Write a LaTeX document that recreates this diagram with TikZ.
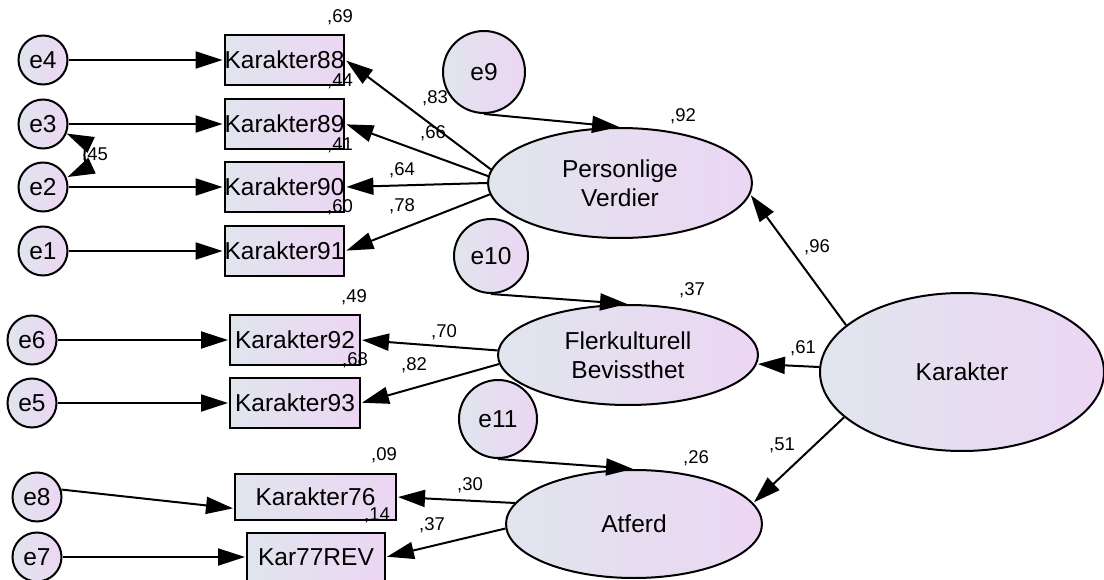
\documentclass[tikz,border=0pt]{standalone}
\usepackage{fontspec}
\setmainfont{Liberation Sans}
\usetikzlibrary{arrows.meta,shapes.geometric}
\definecolor{amosL}{RGB}{224,229,238}
\definecolor{amosR}{RGB}{236,214,243}

\begin{document}
\begin{tikzpicture}[x=1pt,y=-1pt,>={Triangle[length=27pt,width=17pt]},shorten >=1pt,line width=2pt,align=center,
		err/.style={circle,draw,left color=amosL,right color=amosR,inner sep=0pt,minimum size=49pt,font=\fontsize{24.5}{29}\selectfont},
		obs/.style={rectangle,draw,left color=amosL,right color=amosR,inner sep=0pt,minimum height=50pt,font=\fontsize{24.5}{29}\selectfont},
		lat/.style={ellipse,draw,left color=amosL,right color=amosR,inner sep=0pt,font=\fontsize{24.5}{29}\selectfont},
		coef/.style={inner sep=0pt,font=\fontsize{18.5}{20}\selectfont}]
		\useasboundingbox (0,0) rectangle (1104,580);
		% residuals
		\node[err] (e_4) at (43,60) {e4};
		\node[err] (e_3) at (43,124) {e3};
		\node[err] (e_2) at (43,187) {e2};
		\node[err] (e_1) at (43,251) {e1};
		\node[err] (e_6) at (32,340) {e6};
		\node[err] (e_5) at (32,403) {e5};
		\node[err] (e_8) at (37,497) {e8};
		\node[err] (e_7) at (37,557) {e7};
		\node[err,minimum size=82pt] (e_9) at (484,72) {e9};
		\node[err,minimum size=74pt] (e_10) at (491,256) {e10};
		\node[err,minimum size=78pt] (e_11) at (498,419) {e11};
		% items
		\node[obs,minimum width=119pt] (k_88) at (284.5,60) {Karakter88};
		\node[obs,minimum width=119pt] (k_89) at (284.5,124) {Karakter89};
		\node[obs,minimum width=119pt] (k_90) at (284.5,187) {Karakter90};
		\node[obs,minimum width=119pt] (k_91) at (284.5,251) {Karakter91};
		\node[obs,minimum width=130pt] (k_92) at (295,340) {Karakter92};
		\node[obs,minimum width=130pt] (k_93) at (295,403) {Karakter93};
		\node[obs,minimum width=161pt,minimum height=46pt] (k_76) at (315.5,497) {Karakter76};
		\node[obs,minimum width=138pt,minimum height=48pt] (k_77) at (316,557) {Kar77REV};
		% factors
		\node[lat,minimum width=264pt,minimum height=110pt] (pv) at (620,183) {Personlige\\Verdier};
		\node[lat,minimum width=260pt,minimum height=100pt] (fb) at (628,355) {Flerkulturell\\Bevissthet};
		\node[lat,minimum width=256pt,minimum height=108pt] (af) at (634,524) {Atferd};
		\node[lat,minimum width=284pt,minimum height=158pt] (kar) at (962,372) {Karakter};
		\node[coef] (r_45) at (95,155) {,45};
		\path[->]
			(e_4) edge (k_88)
			(e_3) edge (k_89)
			(e_2) edge (k_90)
			(e_1) edge (k_91)
			(e_6) edge (k_92)
			(e_5) edge (k_93)
			(e_8.17) edge (k_76.188)
			(e_7) edge (k_77)
			(e_9.south) edge (pv.north)
			(e_10.south) edge (fb.north)
			(e_11.south) edge (af.north)
			(pv.174) edge (k_88.east)
			(pv.177) edge (k_89.east)
			(pv.180) edge (k_90.east)
			(pv.185) edge (k_91.east)
			(fb.178) edge (k_92.east)
			(fb.184) edge (k_93.east)
			(af.170) edge (k_76.east)
			(af.182) edge (k_77.east)
			(kar.158) edge (pv.-5)
			(kar.178) edge (fb.-4)
			(kar.201) edge (af.10);
		\path[<->] (e_3.-22) edge [bend left=65] (e_2.22);
		% estimates
		\node[coef] (s_88) at (340,17) {,69};
		\node[coef] (s_89) at (340,81) {,44};
		\node[coef] (s_90) at (340,145) {,41};
		\node[coef] (s_91) at (340,207) {,60};
		\node[coef] (s_92) at (354,297) {,49};
		\node[coef] (s_93) at (355,360) {,68};
		\node[coef] (s_76) at (384,455) {,09};
		\node[coef] (s_77) at (377,515) {,14};
		\node[coef] (s_pv) at (683,116) {,92};
		\node[coef] (s_fb) at (692,290) {,37};
		\node[coef] (s_af) at (696,458) {,26};
		\node[coef] (w_88) at (435,98) {,83};
		\node[coef] (w_89) at (433,133) {,66};
		\node[coef] (w_90) at (402,170) {,64};
		\node[coef] (w_91) at (402,206) {,78};
		\node[coef] (w_92) at (444,332) {,70};
		\node[coef] (w_93) at (414,365) {,82};
		\node[coef] (w_76) at (470,485) {,30};
		\node[coef] (w_77) at (432,525) {,37};
		\node[coef] (w_pv) at (817,247) {,96};
		\node[coef] (w_fb) at (803,348) {,61};
		\node[coef] (w_af) at (782,445) {,51};
	\end{tikzpicture}
\end{document}
